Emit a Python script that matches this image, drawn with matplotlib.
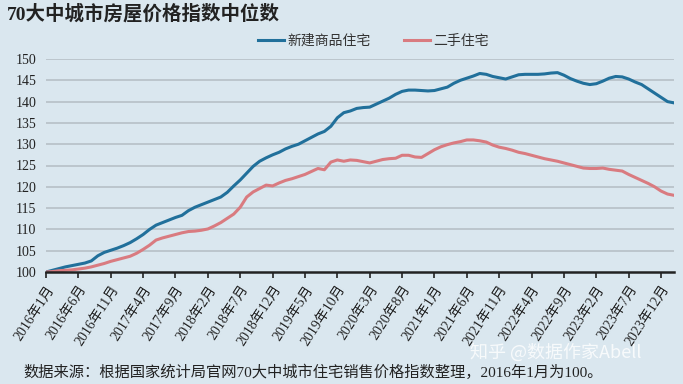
import matplotlib

matplotlib.use("Agg")
import matplotlib.pyplot as plt
import numpy as np

BG = "#dae7ef"
BLUE = "#21709b"
PINK = "#d97b80"
CJK = ["Liberation Serif", "Noto Sans CJK SC"]

# 2016-01 .. 2024-02, monthly, 2016-01 = 100
new_homes = [
    100.0, 100.4, 100.8, 101.2, 101.5, 101.8, 102.1, 102.6, 103.8, 104.6,
    105.1, 105.6, 106.2, 106.9, 107.8, 108.8, 110.0, 111.0, 111.6, 112.2,
    112.8, 113.3, 114.4, 115.2, 115.8, 116.4, 117.0, 117.6, 118.7, 120.2,
    121.6, 123.2, 124.8, 126.0, 126.8, 127.5, 128.1, 128.9, 129.5, 130.0,
    130.8, 131.6, 132.4, 133.0, 134.2, 136.2, 137.4, 137.8, 138.4, 138.6,
    138.7, 139.4, 140.1, 140.8, 141.7, 142.4, 142.7, 142.7, 142.6, 142.5,
    142.6, 143.0, 143.4, 144.3, 145.0, 145.5, 146.0, 146.6, 146.4, 145.9,
    145.6, 145.3, 145.8, 146.3, 146.4, 146.4, 146.4, 146.5, 146.7, 146.8,
    146.2, 145.4, 144.8, 144.3, 144.0, 144.2, 144.8, 145.5, 145.9, 145.8,
    145.3, 144.6, 144.0, 143.0, 142.0, 141.0, 140.0, 139.7,
]
second_hand = [
    100.0, 100.1, 100.3, 100.4, 100.5, 100.7, 100.9, 101.2, 101.6, 102.0,
    102.5, 102.9, 103.3, 103.7, 104.4, 105.3, 106.3, 107.5, 108.0, 108.4,
    108.8, 109.2, 109.5, 109.6, 109.8, 110.1, 110.8, 111.6, 112.6, 113.6,
    115.2, 117.6, 118.8, 119.6, 120.4, 120.2, 120.9, 121.5, 121.9, 122.4,
    122.9, 123.6, 124.3, 124.0, 125.8, 126.3, 126.0, 126.3, 126.2, 125.9,
    125.6, 126.0, 126.4, 126.6, 126.7, 127.4, 127.4, 127.0, 126.9, 127.8,
    128.7, 129.4, 129.9, 130.3, 130.6, 131.0, 131.0, 130.8, 130.5, 129.8,
    129.3, 129.0, 128.6, 128.1, 127.8, 127.4, 127.0, 126.6, 126.3, 126.0,
    125.6, 125.2, 124.8, 124.4, 124.3, 124.3, 124.4, 124.1, 123.9, 123.7,
    122.9, 122.2, 121.5, 120.8, 120.0, 119.0, 118.3, 118.0,
]
tick_labels = [
    "2016年1月", "2016年6月", "2016年11月", "2017年4月", "2017年9月",
    "2018年2月", "2018年7月", "2018年12月", "2019年5月", "2019年10月",
    "2020年3月", "2020年8月", "2021年1月", "2021年6月", "2021年11月",
    "2022年4月", "2022年9月", "2023年2月", "2023年7月", "2023年12月",
]
y_ticks = [100, 105, 110, 115, 120, 125, 130, 135, 140, 145, 150]

months = np.arange(len(new_homes))

fig = plt.figure(figsize=(6.83, 3.84), dpi=100, facecolor=BG)
ax = fig.add_axes([46 / 683, 1 - 272 / 384, 628 / 683, 213 / 384], facecolor=BG)

for v in y_ticks[1:]:
    ax.axhline(v, color="#b3bcc3", lw=1.1, zorder=1)

ax.plot(months, new_homes, color=BLUE, lw=2.2, label="新建商品住宅", zorder=3)
ax.plot(months, second_hand, color=PINK, lw=2.2, label="二手住宅", zorder=3)

ax.set_xlim(0, len(new_homes) - 1)
ax.set_ylim(100, 150)
ax.set_yticks(y_ticks)
ax.set_yticklabels([str(v) for v in y_ticks], family="Liberation Serif", fontsize=10, color="#222222")
ax.tick_params(axis="y", length=0, pad=7)

ax.set_xticks(months[::5][: len(tick_labels)])
ax.set_xticklabels(tick_labels, rotation=57, ha="right", va="top", rotation_mode="anchor",
                   family=CJK, fontsize=10, color="#222222")
ax.tick_params(axis="x", direction="out", length=4, width=1.2, color="#222222", pad=4)

for s in ("top", "right", "left"):
    ax.spines[s].set_visible(False)
ax.spines["bottom"].set_color("#222222")
ax.spines["bottom"].set_linewidth(1.8)
ax.spines["bottom"].set_zorder(4)

fig.text(7 / 683, 1 - 14 / 384, "70大中城市房屋价格指数中位数", family=CJK, fontsize=14,
         fontweight="bold", color="#222222", ha="left", va="center")

fig.legend(loc="center", bbox_to_anchor=(373 / 683, 1 - 41 / 384), ncol=2, frameon=False,
           prop={"family": CJK, "size": 10}, handlelength=1.9, handletextpad=0.2,
           columnspacing=2.4, labelcolor="#333333")

fig.text(23 / 683, 1 - 372 / 384,
         "数据来源：根据国家统计局官网70大中城市住宅销售价格指数整理，2016年1月为100。",
         family=CJK, fontsize=11, color="#222222", ha="left", va="center")

fig.text(470 / 683, 1 - 352 / 384, "知乎 @数据作家Abell", family=["Noto Sans CJK SC"],
         fontsize=13, color="white", alpha=0.8, ha="left", va="center")

fig.savefig("out.png", dpi=100, facecolor=BG)
